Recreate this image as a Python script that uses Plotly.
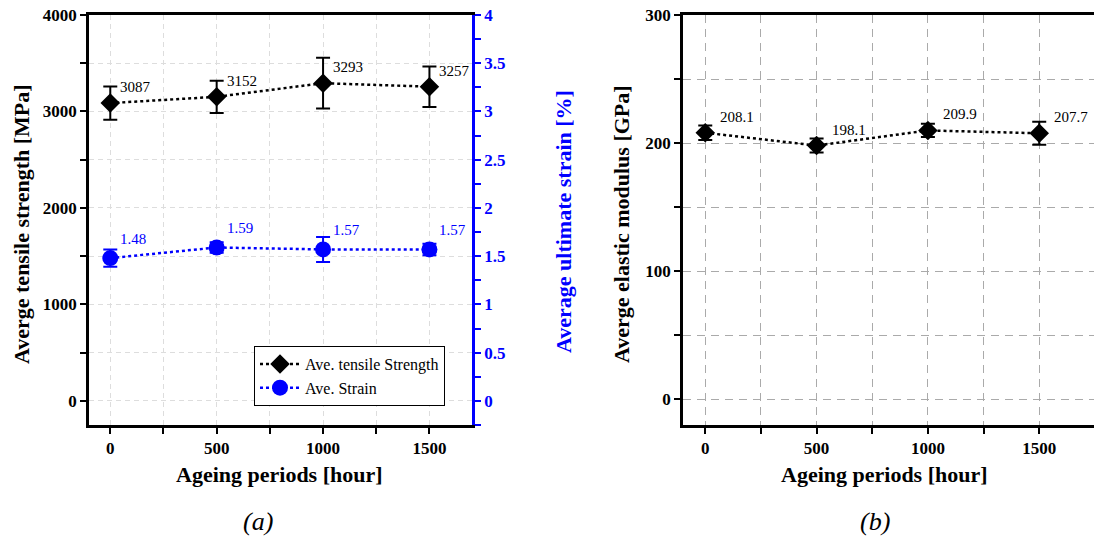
import plotly.graph_objects as go

# ---- data ----
hours = [0, 500, 1000, 1500]
tensile = [3087, 3152, 3293, 3257]
tensile_err = [172, 167, 263, 210]
strain = [1.48, 1.59, 1.57, 1.57]
strain_err = [0.09, 0.055, 0.13, 0.06]
modulus = [208.1, 198.1, 209.9, 207.7]
modulus_err = [5.7, 5.5, 5.2, 9.0]

x_ticks = [0, 500, 1000, 1500]
y1_ticks = [0, 1000, 2000, 3000, 4000]
y2_ticks = [0, 0.5, 1, 1.5, 2, 2.5, 3, 3.5, 4]
y2_ticktext = ["0", "0.5", "1", "1.5", "2", "2.5", "3", "3.5", "4"]
y3_ticks = [0, 100, 200, 300]

SERIF = "Liberation Serif, Times New Roman, Times, serif"
BLUE = "#0000FF"

fig = go.Figure()

fig.add_trace(go.Scatter(
    x=hours, y=tensile, name="Ave. tensile Strength", mode="lines+markers",
    line=dict(color="black", width=2.5, dash="dot"),
    marker=dict(symbol="diamond", size=15, color="black"),
    error_y=dict(type="data", array=tensile_err, color="black", thickness=2, width=7),
    xaxis="x", yaxis="y"))

fig.add_trace(go.Scatter(
    x=hours, y=strain, name="Ave. Strain", mode="lines+markers",
    line=dict(color=BLUE, width=2.5, dash="dot"),
    marker=dict(symbol="circle", size=16, color=BLUE),
    error_y=dict(type="data", array=strain_err, color=BLUE, thickness=2, width=7),
    xaxis="x", yaxis="y2"))

fig.add_trace(go.Scatter(
    x=hours, y=modulus, name="Ave. modulus", mode="lines+markers", showlegend=False,
    line=dict(color="black", width=2.5, dash="dot"),
    marker=dict(symbol="diamond", size=15, color="black"),
    error_y=dict(type="data", array=modulus_err, color="black", thickness=2, width=7),
    xaxis="x2", yaxis="y3"))

annotations = []
for xv, yv in zip(hours, tensile):
    annotations.append(dict(x=xv, y=yv, xref="x", yref="y", text=str(yv),
                            showarrow=False, xanchor="left", yanchor="middle",
                            xshift=8, yshift=16,
                            font=dict(family=SERIF, size=15, color="black")))
for xv, yv in zip(hours, strain):
    annotations.append(dict(x=xv, y=yv, xref="x", yref="y2", text=f"{yv:.2f}",
                            showarrow=False, xanchor="left", yanchor="middle",
                            xshift=8, yshift=19,
                            font=dict(family=SERIF, size=15, color=BLUE)))
for xv, yv in zip(hours, modulus):
    annotations.append(dict(x=xv, y=yv, xref="x2", yref="y3", text=f"{yv:.1f}",
                            showarrow=False, xanchor="left", yanchor="middle",
                            xshift=13, yshift=16,
                            font=dict(family=SERIF, size=15, color="black")))

title_font = dict(family=SERIF, size=22, color="black", weight="bold")
annotations += [
    dict(text="Averge tensile strength [MPa]", x=22, y=224, xref="paper", yref="paper",
         showarrow=False, textangle=-90, font=title_font),
    dict(text="Average ultimate strain [%]", x=563, y=222, xref="paper", yref="paper",
         showarrow=False, textangle=-90, font=dict(title_font, color=BLUE)),
    dict(text="Averge elastic modulus [GPa]", x=622, y=224, xref="paper", yref="paper",
         showarrow=False, textangle=-90, font=title_font),
    dict(text="Ageing periods [hour]", x=279, y=474, xref="paper", yref="paper",
         showarrow=False, font=title_font),
    dict(text="Ageing periods [hour]", x=884, y=474, xref="paper", yref="paper",
         showarrow=False, font=title_font),
    dict(text="(a)", x=258, y=521, xref="paper", yref="paper", showarrow=False,
         font=dict(family=SERIF, size=26, color="black", style="italic")),
    dict(text="(b)", x=875, y=521, xref="paper", yref="paper", showarrow=False,
         font=dict(family=SERIF, size=26, color="black", style="italic")),
]
W, H = 1094, 540
for a in annotations:
    if a.get("xref") == "paper":
        a["x"] = a["x"] / W
        a["y"] = 1 - a["y"] / H
        a["xanchor"] = "center"
        a["yanchor"] = "middle"

tick_font = dict(family=SERIF, size=17, color="black", weight="bold")
LIGHT = "#dddddd"
DARK = "#aaaaaa"
DASH_A = "5px,4px"
DASH_B = "8px,6px"

ydom = [(H - 425) / H, (H - 15) / H]

common = dict(automargin=False, zeroline=False, ticks="outside", ticklen=6, tickwidth=1.5,
              showline=True, linewidth=2.5)

fig.update_layout(
    template="none",
    width=W, height=H, margin=dict(l=0, r=0, t=0, b=0, pad=0),
    paper_bgcolor="white", plot_bgcolor="white",
    font=dict(family=SERIF),
    annotations=annotations,
    showlegend=True,
    legend=dict(x=254 / W, y=1 - 346 / H, xanchor="left", yanchor="top",
                bgcolor="white", bordercolor="black", borderwidth=1,
                font=dict(family=SERIF, size=16, color="black"),
                tracegroupgap=0, itemwidth=40),
    xaxis=dict(domain=[89 / W, 472 / W], range=[-100, 1700], anchor="y",
               tickvals=x_ticks, tickfont=tick_font, linecolor="black", tickcolor="black",
               mirror=True, showgrid=True, gridcolor=LIGHT, griddash=DASH_A, gridwidth=1,
               minor=dict(dtick=250, tick0=0, ticks="outside", ticklen=6, tickwidth=1.5,
                          tickcolor="black", showgrid=True, gridcolor=LIGHT, griddash=DASH_A),
               **common),
    yaxis=dict(domain=ydom, range=[-250, 4000], anchor="x",
               tickvals=y1_ticks, tickfont=tick_font, linecolor="black", tickcolor="black",
               showgrid=True, gridcolor=LIGHT, griddash=DASH_A, gridwidth=1,
               minor=dict(dtick=500, tick0=0, ticks="outside", ticklen=6, tickwidth=1.5,
                          tickcolor="black", showgrid=True, gridcolor=LIGHT, griddash=DASH_A),
               **common),
    yaxis2=dict(overlaying="y", side="right", anchor="x", range=[-0.25, 4],
                tickvals=y2_ticks, ticktext=y2_ticktext, tickcolor=BLUE,
                tickfont=dict(tick_font, color=BLUE), linecolor=BLUE, showgrid=False,
                minor=dict(dtick=0.25, tick0=0, ticks="outside", ticklen=6, tickwidth=1.5,
                           tickcolor=BLUE, showgrid=False),
                **common),
    xaxis2=dict(domain=[683 / W, 1.0], range=[-100, 1746], anchor="y3",
                tickvals=x_ticks, tickfont=tick_font, linecolor="black", tickcolor="black",
                mirror=True, showgrid=True, gridcolor=DARK, griddash=DASH_B, gridwidth=1,
                minor=dict(dtick=250, tick0=0, ticks="outside", ticklen=6, tickwidth=1.5,
                           tickcolor="black", showgrid=True, gridcolor=DARK, griddash=DASH_B),
                **common),
    yaxis3=dict(domain=ydom, range=[-20, 300], anchor="x2",
                tickvals=y3_ticks, tickfont=tick_font, linecolor="black", tickcolor="black",
                showgrid=True, gridcolor=DARK, griddash=DASH_B, gridwidth=1,
                minor=dict(dtick=50, tick0=0, ticks="outside", ticklen=6, tickwidth=1.5,
                           tickcolor="black", showgrid=True, gridcolor=DARK, griddash=DASH_B),
                **common),
)

fig.write_html("out.html")
